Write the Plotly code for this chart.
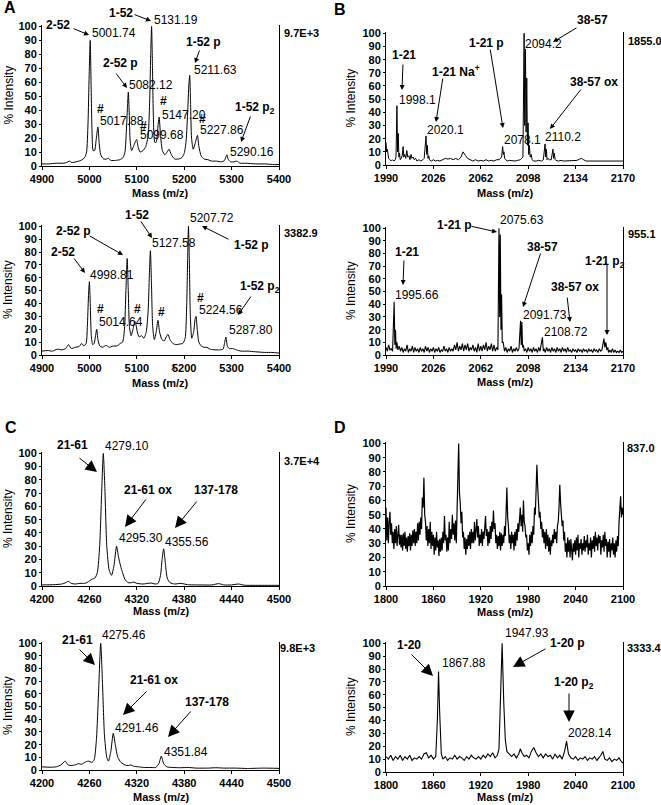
import plotly.graph_objects as go

W, H = 661, 805
FONT = "Arial, 'Liberation Sans', sans-serif"

# ---------------- data ----------------
A1_mass = [4900, 4915, 4930, 4945, 4952, 4958, 4963, 4972, 4982, 4990, 4994, 4997, 4999.5, 5001.7, 5003.5,
           5005.5, 5008, 5011, 5014, 5017.9, 5020.5, 5024, 5030, 5036, 5040, 5045, 5055, 5064, 5071, 5075,
           5078, 5080.3, 5082.1, 5084, 5086, 5089, 5093, 5096.5, 5099.7, 5102.5, 5107, 5113, 5119, 5124,
           5127, 5129.5, 5131.2, 5133, 5135, 5138, 5141, 5144.5, 5147.2, 5150, 5154, 5159, 5164, 5168,
           5173, 5180, 5188, 5195, 5200, 5204, 5207.5, 5209.8, 5211.6, 5213.5, 5215.5, 5219, 5223, 5227.9,
           5231, 5236, 5242, 5250, 5258, 5268, 5279, 5285, 5288, 5290.2, 5292.5, 5298, 5305, 5311, 5318,
           5330, 5350, 5370, 5390, 5400]
A1_int = [1.5, 1.5, 2, 2, 2.5, 3.5, 2.5, 3, 4, 6, 10, 30, 65, 90, 60,
          25, 11, 11, 18, 28, 17, 8, 5, 5, 5.5, 4, 4, 4.5, 6, 10,
          25, 42, 53, 38, 18, 11, 14, 17, 19, 14, 10, 11, 14, 22,
          45, 82, 100, 72, 35, 17, 17, 28, 35, 22, 11, 8, 10, 12,
          8, 5, 5, 6, 9, 18, 40, 58, 65, 44, 20, 12, 16, 22,
          14, 7, 5, 4.5, 3.5, 3.5, 3, 4, 6.5, 8, 5, 3, 3, 3.5, 2,
          2, 1.5, 1.5, 1, 1]

A2_mass = [4900, 4912, 4922, 4932, 4942, 4950, 4956, 4962, 4970, 4978, 4984, 4988, 4993, 4996, 4998.3,
           5000, 5001.8, 5004, 5007, 5010, 5013, 5015.4, 5018, 5022, 5028, 5035, 5042, 5050, 5058, 5065,
           5070, 5074, 5077, 5079.7, 5082, 5084.5, 5088, 5092, 5095.8, 5098, 5101, 5105, 5110, 5115, 5120,
           5124, 5126.5, 5128.7, 5131, 5133.5, 5137, 5141, 5144.7, 5148, 5153, 5158, 5162, 5165.7, 5170,
           5176, 5183, 5190, 5197, 5202, 5205, 5207.3, 5209, 5211, 5213, 5216, 5220, 5223, 5225, 5227.5,
           5231, 5236, 5242, 5248, 5255, 5265, 5275, 5282, 5285, 5288, 5291, 5295, 5302, 5310, 5320, 5335,
           5350, 5370, 5385, 5400]
A2_int = [3, 3.5, 3, 4.5, 4, 5, 8, 5, 6, 6.5, 9, 7, 9, 25, 48,
          57, 40, 15, 8, 9, 15, 20, 12, 7, 6, 7.5, 6, 7, 7, 9,
          10, 20, 50, 75, 50, 22, 15, 20, 26, 24, 18, 14, 15, 13, 18,
          35, 62, 81, 55, 22, 12, 18, 27, 18, 12, 11, 14, 16, 12,
          9, 8, 8.5, 9, 13, 35, 75, 100, 70, 30, 13, 18, 28, 30, 20,
          10, 7, 6, 6, 4.5, 4, 4, 4.5, 9, 14, 7, 5, 5, 4, 3, 3,
          2.5, 2, 2, 1.5]

B1_mass = [1990, 1990.5, 1991, 1991.5, 1992, 1993, 1994, 1995, 1996, 1997, 1997.6, 1998.3, 1998.8, 1999.3,
           1999.8, 2000.3, 2000.8, 2001.5, 2002.3, 2003, 2003.5, 2004.2, 2005, 2005.8, 2006.5, 2007.4,
           2008.2, 2009, 2009.7, 2010.6, 2011.5, 2012.5, 2013.5, 2015, 2016.5, 2018, 2019, 2020.4, 2020.9,
           2021.4, 2021.9, 2022.5, 2023, 2024.5, 2026, 2027.5, 2029, 2031, 2033, 2035, 2037, 2039, 2041,
           2043, 2045, 2047, 2048.5, 2049.5, 2050.5, 2052, 2054, 2056, 2058, 2060, 2062, 2064, 2066, 2068,
           2070, 2072, 2074, 2076, 2077.8, 2078.6, 2079.1, 2079.6, 2080.1, 2081, 2082, 2084, 2086, 2088,
           2090, 2092, 2094, 2094.9, 2095.4, 2095.9, 2096.4, 2096.9, 2097.4, 2097.9, 2098.4, 2098.9, 2099.5,
           2100.3, 2101, 2102, 2104, 2106, 2108, 2109.5, 2110.8, 2111.3, 2111.8, 2112.3, 2113, 2114, 2115.5,
           2116.8, 2117.3, 2117.8, 2118.5, 2119, 2121, 2123, 2125, 2127, 2129, 2131, 2133, 2135, 2137, 2138.5,
           2140, 2142, 2145, 2148, 2151, 2154, 2157, 2160, 2163, 2166, 2170]
B1_int = [17, 10, 12, 6, 5, 4, 3, 4, 3, 4, 6, 45, 10, 24,
          6, 9, 4, 5, 7, 14, 6, 8, 5, 11, 6, 7,
          4, 8, 5, 6, 4, 5, 3, 4, 3, 4, 5, 22, 8,
          15, 5, 7, 4, 3, 4, 3, 3.5, 3, 4, 5, 4.5, 5, 4,
          5, 4, 6, 10, 8, 7, 5, 4, 3, 4, 3, 3.5, 3, 4, 3,
          3.5, 3, 4, 4, 6, 14, 8, 10, 5, 4, 3, 3.5, 3, 3,
          3.5, 4, 6, 100, 30, 88, 25, 66, 15, 32, 8, 15, 6,
          8, 4, 3, 3, 3.5, 3, 4, 16, 6, 12, 4, 5, 4, 4,
          12, 5, 9, 4, 3.5, 3, 3.5, 3, 3, 3.5, 3, 3, 3.5, 4.5, 5,
          4, 3, 3, 3, 3.5, 3, 3, 3, 3, 3, 3]

B2_mass = [1990, 1991, 1992, 1993, 1994, 1995, 1996.2, 1996.7, 1997.2, 1997.7, 1998.3, 1999, 2000, 2001, 2002,
           2003, 2004, 2005, 2006, 2007, 2008, 2009, 2010, 2011, 2012, 2013, 2014, 2015, 2016, 2017, 2018,
           2019, 2020, 2021, 2022, 2023, 2024, 2025, 2026, 2027, 2028, 2029, 2030, 2031, 2032, 2033, 2034,
           2035, 2036, 2037, 2038, 2039, 2040, 2041, 2042, 2043, 2044, 2045, 2046, 2047, 2048, 2049, 2050,
           2051, 2052, 2053, 2054, 2055, 2056, 2057, 2058, 2059, 2060, 2061, 2062, 2063, 2064, 2065, 2066,
           2067, 2068, 2069, 2070, 2071, 2072, 2073, 2074, 2075, 2075.8, 2076.3, 2076.8, 2077.3, 2077.8,
           2078.3, 2079, 2080, 2081, 2082, 2083, 2084, 2085, 2086, 2087, 2088, 2089, 2090, 2091, 2092.2,
           2092.7, 2093.2, 2093.7, 2094.3, 2095, 2096, 2097, 2098, 2099, 2100, 2101, 2102, 2103, 2104, 2105,
           2106, 2107, 2108.8, 2109.5, 2110, 2111, 2112, 2113, 2114, 2115, 2116, 2117, 2118, 2119, 2120,
           2121, 2122, 2123, 2124, 2125, 2126, 2127, 2128, 2129, 2130, 2131, 2132, 2133, 2134, 2135, 2136,
           2137, 2138, 2139, 2140, 2141, 2142, 2143, 2144, 2145, 2146, 2147, 2148, 2149, 2150, 2151, 2152,
           2153, 2154, 2155.5, 2156.2, 2157, 2157.7, 2158.5, 2159, 2160, 2161, 2162, 2163, 2164, 2165, 2166,
           2167, 2168, 2169, 2170]
B2_int = [6, 3, 8, 4, 5, 3, 42, 8, 20, 5, 10, 4, 7, 3, 6,
          2, 5, 3, 8, 2, 5, 3, 7, 2, 6, 3, 5, 2, 6, 3, 5,
          2, 7, 3, 6, 2, 5, 3, 6, 2, 5, 3, 6, 2, 4, 3, 7,
          3, 5, 2, 6, 3, 5, 3, 8, 4, 10, 3, 7, 4, 9, 3, 8,
          4, 9, 3, 6, 4, 8, 3, 6, 2, 9, 3, 7, 3, 8, 4, 10,
          3, 7, 4, 9, 3, 8, 3, 6, 4, 100, 30, 95, 20, 48,
          10, 10, 3, 6, 2, 5, 3, 7, 2, 5, 3, 6, 3, 5, 27,
          8, 26, 6, 8, 3, 5, 2, 6, 3, 5, 2, 6, 3, 5, 2,
          6, 3, 14, 3, 5, 2, 6, 3, 5, 2, 6, 3, 5, 2, 6,
          3, 5, 2, 6, 3, 5, 2, 6, 3, 4, 2, 5, 3, 4, 2, 5,
          3, 4, 2, 5, 3, 4, 2, 5, 3, 4, 2, 5, 3, 4, 2, 5,
          3, 4, 13, 6, 10, 4, 6, 2, 4, 2, 5, 2, 4, 2, 3,
          2, 4, 2, 3]

C1_mass = [4200, 4215, 4225, 4230, 4233.6, 4237, 4242, 4248, 4254, 4258, 4263, 4267, 4270, 4273, 4275.5,
           4277.6, 4279.5, 4282, 4285, 4288, 4291, 4294.4, 4296.8, 4299.5, 4302, 4305, 4309, 4313, 4316,
           4320, 4328, 4334, 4338.5, 4343, 4347, 4350, 4352, 4354, 4356, 4358.5, 4362, 4368, 4376, 4384,
           4400, 4415, 4423.7, 4430, 4440, 4448.8, 4456, 4470, 4485, 4500]
C1_int = [0.8, 1, 1.5, 2.5, 3.5, 2, 1.5, 2, 2, 3, 5, 6, 10, 30, 70,
          100, 75, 30, 12, 8, 15, 30, 22, 15, 10, 5, 2.5, 2.5, 3,
          2, 1.5, 2, 2.2, 1.5, 2, 8, 20, 28, 18, 6, 2.5, 1.5, 2, 1,
          0.8, 0.8, 1.8, 0.8, 0.8, 1.5, 0.6, 0.5, 0.5, 0.5]

C2_mass = [4200, 4210, 4218, 4224, 4229.4, 4233, 4237, 4242, 4246, 4250, 4254, 4258.8, 4263, 4266, 4269,
           4271.5, 4274.3, 4276.5, 4279, 4282, 4284, 4287, 4290.2, 4292.8, 4296, 4300, 4305, 4309, 4312.5,
           4316, 4322, 4330, 4338, 4344, 4348, 4351, 4354, 4358, 4365, 4375, 4385, 4395, 4410, 4420, 4430,
           4445, 4460, 4480, 4500]
C2_int = [2.5, 2.2, 2.5, 4, 7, 4, 3.5, 4, 5, 4.5, 6, 7, 6, 8, 25,
          60, 100, 70, 28, 10, 7, 14, 29, 20, 10, 6, 4, 3.5, 4,
          3, 2.5, 2, 2, 2, 5, 11, 5, 2.5, 2, 1.8, 2, 1.5, 1.5, 1.8, 1.5,
          1.5, 1.2, 1.5, 1.3]

# D top: one reading per 1 Da, 1800 ... 2100
D1_mass = list(range(1800, 2101))
D1_int = [55, 32, 48, 30, 45, 52, 36, 44, 30, 38,
          26, 40, 30, 42, 28, 38, 43, 29, 36, 27,
          36, 25, 37, 28, 38, 26, 34, 24, 35, 28,
          37, 25, 36, 28, 39, 30, 40, 28, 38, 30,
          44, 32, 45, 36, 48, 40, 62, 55, 76, 50,
          45, 32, 42, 28, 40, 30, 45, 26, 38, 28,
          36, 22, 34, 25, 38, 27, 32, 21, 33, 24,
          34, 25, 38, 30, 49, 32, 36, 24, 34, 25,
          45, 30, 40, 33, 50, 36, 44, 32, 46, 30,
          48, 75, 100, 65, 58, 44, 52, 34, 38, 26,
          34, 22, 33, 26, 36, 28, 38, 26, 40, 30,
          38, 30, 45, 32, 40, 47, 34, 42, 28, 36,
          30, 40, 28, 38, 33, 45, 49, 35, 40, 28,
          38, 30, 42, 33, 45, 38, 53, 40, 44, 30,
          36, 26, 35, 28, 38, 25, 37, 28, 36, 30,
          42, 35, 55, 69, 48, 42, 30, 36, 26, 38,
          30, 36, 25, 38, 28, 40, 32, 44, 38, 48,
          55, 42, 50, 38, 60, 45, 42, 34, 36, 25,
          30, 22, 36, 28, 38, 30, 42, 36, 55, 50,
          72, 85, 70, 60, 48, 52, 40, 45, 34, 40,
          30, 38, 26, 40, 28, 36, 24, 34, 22, 32,
          28, 36, 30, 40, 33, 38, 30, 42, 45, 55,
          71, 58, 50, 42, 46, 32, 38, 24, 30, 20,
          34, 24, 32, 20, 33, 26, 18, 30, 24, 32,
          22, 34, 25, 36, 20, 30, 26, 33, 22, 30,
          25, 35, 24, 32, 27, 36, 22, 30, 25, 34,
          20, 32, 26, 35, 24, 38, 28, 34, 25, 36,
          30, 35, 22, 32, 27, 36, 24, 38, 28, 33,
          20, 31, 24, 33, 20, 30, 25, 34, 22, 30,
          20, 32, 24, 35, 28, 45, 52, 63, 48, 55,
          50]

D2_mass = [1800, 1803, 1806, 1809, 1812, 1815, 1818, 1821, 1824, 1827, 1830, 1833, 1836, 1839, 1842, 1845,
           1848, 1851, 1854, 1857, 1860, 1863, 1865, 1866.5, 1868, 1870, 1872, 1875, 1878, 1881, 1884, 1887,
           1890, 1893, 1896, 1899, 1902, 1905, 1908, 1911, 1914, 1917, 1920, 1923, 1926, 1929, 1932, 1935,
           1938, 1941, 1943, 1945, 1947, 1949, 1951, 1953, 1956, 1959, 1962, 1965, 1968, 1970, 1972, 1975,
           1978, 1981, 1984, 1987, 1990, 1993, 1996, 1999, 2002, 2005, 2008, 2011, 2014, 2017, 2020, 2023,
           2026, 2028.5, 2031, 2034, 2037, 2040, 2043, 2046, 2049, 2052, 2055, 2058, 2061, 2064, 2067, 2070,
           2072, 2074.5, 2077, 2080, 2083, 2086, 2089, 2092, 2095, 2098, 2100]
D2_int = [12, 10, 13, 9, 12, 10, 13, 9, 12, 10, 13, 9, 11, 10, 12, 10,
          14, 15, 11, 13, 10, 12, 40, 78, 45, 14, 10, 12, 9, 11, 10, 13,
          10, 12, 11, 9, 12, 10, 13, 11, 10, 12, 10, 13, 11, 14, 12, 15,
          11, 13, 18, 60, 100, 55, 25, 16, 14, 12, 14, 11, 14, 18, 15, 12,
          13, 11, 16, 19, 15, 12, 14, 11, 14, 12, 13, 10, 14, 11, 13, 10,
          16, 24, 14, 11, 10, 12, 9, 11, 10, 12, 9, 11, 10, 12, 9, 11,
          13, 16, 10, 9, 11, 8, 10, 9, 11, 8, 7]

A_ticks = [4900, 5000, 5100, 5200, 5300, 5400]
B_ticks = [1990, 2026, 2062, 2098, 2134, 2170]
C_ticks = [4200, 4260, 4320, 4380, 4440, 4500]
D_ticks = [1800, 1860, 1920, 1980, 2040, 2100]
Y_ticks = [0, 10, 20, 30, 40, 50, 60, 70, 80, 90, 100]

# ---------------- layout helpers ----------------
def px(x):
    return x / W


def py(y):
    return 1 - y / H


# name, mass, intensity, ticks, x px (left,right), y px (top,bottom), line shape, line width
panels = [
    ("A1", A1_mass, A1_int, A_ticks, (42, 279), (25, 166), "spline", 1),
    ("A2", A2_mass, A2_int, A_ticks, (42, 279), (225, 355), "spline", 1),
    ("B1", B1_mass, B1_int, B_ticks, (386, 623), (32, 165), "linear", 1),
    ("B2", B2_mass, B2_int, B_ticks, (386, 623), (227, 355), "linear", 1.1),
    ("C1", C1_mass, C1_int, C_ticks, (42, 279), (452, 586), "spline", 1),
    ("C2", C2_mass, C2_int, C_ticks, (42, 279), (642, 770), "spline", 1),
    ("D1", D1_mass, D1_int, D_ticks, (386, 623), (442, 586), "linear", 1.2),
    ("D2", D2_mass, D2_int, D_ticks, (386, 623), (642, 772), "linear", 1.1),
]

fig = go.Figure()
layout = dict(width=W, height=H, autosize=False, margin=dict(l=0, r=0, t=0, b=0, pad=0),
              paper_bgcolor="white", plot_bgcolor="white", showlegend=False,
              font=dict(family=FONT, color="black"))

tickfont = dict(family=FONT, size=11, color="black", weight="bold")
for i, (name, m, v, ticks, (xl, xr), (yt, yb), shape, lw) in enumerate(panels):
    n = "" if i == 0 else str(i + 1)
    fig.add_trace(go.Scatter(x=m, y=v, mode="lines",
                             line=dict(color="black", width=lw, shape=shape,
                                       smoothing=0.6 if shape == "spline" else None),
                             xaxis="x" + n, yaxis="y" + n, hoverinfo="skip"))
    layout["xaxis" + n] = dict(domain=[px(xl), px(xr)], range=[ticks[0], ticks[-1]], anchor="y" + n,
                               tickvals=ticks, ticks="outside", ticklen=3, tickcolor="black",
                               showline=True, linecolor="black", linewidth=1, showgrid=False,
                               zeroline=False, tickfont=tickfont, mirror=False, automargin=False)
    layout["yaxis" + n] = dict(domain=[py(yb), py(yt)], range=[0, 101], anchor="x" + n,
                               tickvals=Y_ticks, ticks="outside", ticklen=2, tickcolor="black",
                               showline=True, linecolor="black", linewidth=1, showgrid=False,
                               zeroline=False, tickfont=tickfont, mirror=True, automargin=False)

ann = []


def text(t, x, y, anchor="left", style="n"):
    size, weight = 12, "normal"
    if style == "b":
        weight = "bold"
    elif style == "r":
        size, weight = 11, "bold"
    elif style == "L":
        size, weight = 16, "bold"
    elif style == "t":
        size = 8
    ann.append(dict(text=t, x=px(x), y=py(y), xref="paper", yref="paper", showarrow=False,
                    xanchor=anchor, yanchor="middle",
                    font=dict(family=FONT, size=size, color="black", weight=weight)))


def arrow(hx, hy, tx, ty, big=False):
    ann.append(dict(text="", x=px(hx), y=py(hy), xref="paper", yref="paper", showarrow=True,
                    ax=tx - hx, ay=ty - hy, axref="pixel", ayref="pixel",
                    arrowhead=2, arrowsize=2.3 if big else 1.0, arrowwidth=1,
                    arrowcolor="black", standoff=0, startstandoff=0))


def title_y(x, yt, yb):
    ann.append(dict(text="% Intensity", x=px(x), y=py((yt + yb) / 2), xref="paper", yref="paper",
                    showarrow=False, textangle=-90, xanchor="center", yanchor="middle",
                    font=dict(family=FONT, size=12, color="black")))


def title_x(x, y):
    ann.append(dict(text="Mass (m/z)", x=px(x), y=py(y), xref="paper", yref="paper",
                    showarrow=False, xanchor="center", yanchor="middle",
                    font=dict(family=FONT, size=11, color="black", weight="bold")))


# panel letters
text("A", 2, 8, "left", "L")
text("B", 332, 9, "left", "L")
text("C", 3, 428, "left", "L")
text("D", 332, 428, "left", "L")

# axis titles
for (x, yt, yb) in [(8, 25, 166), (8, 225, 355), (351, 32, 165), (351, 227, 355),
                    (8, 452, 586), (8, 642, 770), (351, 442, 586), (351, 642, 772)]:
    title_y(x, yt, yb)
for (x, y) in [(160, 193), (160, 383), (505, 193), (505, 382),
               (161, 611), (161, 797), (505, 612), (505, 797)]:
    title_x(x, y)

# ---- A top
text("2-52", 58, 25, "center", "b"); text("5001.74", 90, 33)
text("1-52", 121, 13, "center", "b"); text("5131.19", 152, 20)
text("2-52 p", 120, 63, "center", "b"); text("5082.12", 127, 85)
text("1-52 p", 203, 42, "center", "b"); text("5211.63", 192, 70)
text("#", 100, 109, "center", "b"); text("5017.88", 98, 121)
text("#", 143, 126, "center", "b"); text("5099.68", 138, 135)
text("#", 163, 101, "center", "b"); text("5147.20", 160, 115)
text("#", 202, 119, "center", "b"); text("5227.86", 198, 130)
text("1-52 p<sub>2</sub>", 233, 108, "left", "b"); text("5290.16", 228, 152)
text("9.7E+3", 282, 33, "left", "r")
arrow(89, 35, 72, 28); arrow(151, 21, 133, 14); arrow(127, 88, 115, 72)
arrow(195, 63, 200, 49); arrow(241, 142, 251, 115)

# ---- A bottom
text("1-52", 137, 215, "center", "b"); text("5127.58", 150, 243)
text("5207.72", 188, 218); text("1-52 p", 232, 245, "left", "b")
text("2-52 p", 73, 231, "center", "b")
text("2-52", 63, 252, "center", "b"); text("4998.81", 88, 275)
text("#", 100, 309, "center", "b"); text("5014.64", 97, 322)
text("#", 137, 309, "center", "b")
text("#", 161, 312, "center", "b")
text("#", 201, 298, "center", "b"); text("5224.56", 197, 310)
text("1-52 p<sub>2</sub>", 238, 287, "left", "b"); text("5287.80", 227, 330)
text("3382.9", 282, 233, "left", "r")
text("2", 173, 368, "center", "t")
arrow(152, 238, 140, 220); arrow(202, 226, 230, 240); arrow(123, 255, 88, 235)
arrow(85, 273, 73, 257); arrow(238, 315, 252, 295)

# ---- B top
text("1-21", 404, 55, "center", "b"); text("1998.1", 397, 100)
text("1-21 Na<sup>+</sup>", 430, 71, "left", "b"); text("2020.1", 425, 130)
text("1-21 p", 467, 43, "left", "b"); text("2078.1", 502, 140)
text("38-57", 575, 20, "left", "b"); text("2094.2", 523, 44)
text("38-57 ox", 568, 82, "left", "b"); text("2110.2", 543, 137)
text("1855.0", 626, 41, "left", "r")
arrow(402, 90, 403, 63); arrow(436, 122, 443, 77); arrow(503, 128, 490, 48)
arrow(553, 42, 578, 27); arrow(550, 129, 582, 88)

# ---- B bottom
text("1-21 p", 435, 225, "left", "b"); text("2075.63", 498, 220)
text("1-21", 407, 252, "center", "b"); text("1995.66", 393, 295)
text("38-57", 525, 247, "left", "b"); text("2091.73", 521, 315)
text("38-57 ox", 549, 287, "left", "b"); text("2108.72", 542, 332)
text("1-21 p<sub>2</sub>", 583, 262, "left", "b")
text("955.1", 626, 234, "left", "r")
arrow(497, 232, 470, 226); arrow(403, 285, 404, 259); arrow(523, 307, 541, 252)
arrow(570, 322, 567, 296); arrow(607, 335, 607, 263)

# ---- C top
text("21-61", 55, 445, "left", "b"); text("4279.10", 103, 446)
text("21-61 ox", 122, 490, "left", "b"); text("4295.30", 117, 538)
text("137-178", 192, 490, "left", "b"); text("4355.56", 163, 542)
text("3.7E+4", 282, 461, "left", "r")
arrow(97, 472, 78, 457, True); arrow(125, 527, 147, 498, True); arrow(175, 528, 198, 500, True)

# ---- C bottom
text("21-61", 60, 640, "left", "b"); text("4275.46", 100, 635)
text("21-61 ox", 128, 680, "left", "b"); text("4291.46", 113, 728)
text("137-178", 183, 702, "left", "b"); text("4351.84", 162, 752)
text("9.8E+3", 278, 648, "left", "r")
arrow(95, 665, 78, 648, True); arrow(123, 715, 148, 690, True); arrow(168, 737, 192, 710, True)

# ---- D top
text("837.0", 625, 448, "left", "r")

# ---- D bottom
text("1-20", 395, 645, "left", "b"); text("1867.88", 440, 663)
text("1947.93", 503, 633); text("1-20 p", 548, 643, "left", "b")
text("1-20 p<sub>2</sub>", 552, 683, "left", "b"); text("2028.14", 566, 733)
text("3333.4", 625, 648, "left", "r")
arrow(433, 676, 410, 653, True); arrow(513, 667, 547, 648, True); arrow(569, 722, 569, 692, True)

layout["annotations"] = ann
fig.update_layout(**layout)
# the page's default 8px body margin would push the 661x805 figure off the window
fig.write_html("out.html", config={"displayModeBar": False},
               post_script="document.body.style.margin='0';document.body.style.padding='0';")
